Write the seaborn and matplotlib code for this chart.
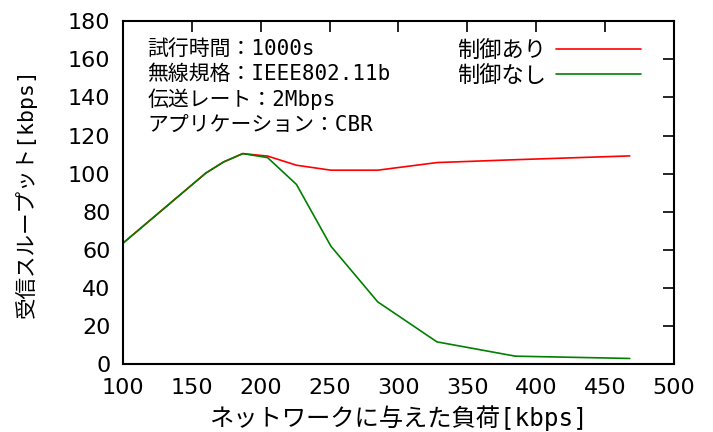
import matplotlib
matplotlib.use("Agg")
import matplotlib.pyplot as plt
import seaborn as sns
import pandas as pd

# offered load [kbps]
load = [100, 160, 173, 187, 205, 226, 251, 285, 328, 385, 468]
with_ctrl = [63.5, 100.2, 106.1, 110.5, 109.2, 104.4, 101.8, 101.8, 105.8, 107.3, 109.3]
without_ctrl = [63.5, 100.2, 106.1, 110.5, 108.4, 94.3, 61.9, 32.7, 11.7, 4.2, 3.0]
series_names = ["制御あり", "制御なし"]
info_lines = ["試行時間：1000s", "無線規格：IEEE802.11b", "伝送レート：2Mbps", "アプリケーション：CBR"]
x_ticks = [100, 150, 200, 250, 300, 350, 400, 450, 500]
y_ticks = [0, 20, 40, 60, 80, 100, 120, 140, 160, 180]

df = pd.DataFrame({
    "load": load * 2,
    "throughput": with_ctrl + without_ctrl,
    "series": [series_names[0]] * len(load) + [series_names[1]] * len(load),
})

sns.set_style("white")
plt.rcParams["font.family"] = ["DejaVu Sans", "Noto Sans CJK JP"]
plt.rcParams["text.color"] = "black"
plt.rcParams["axes.labelcolor"] = "black"

fig = plt.figure(figsize=(7.13, 4.32), dpi=100)
ax = fig.add_axes([0.1725, 0.157, 0.7725, 0.794])

sns.lineplot(data=df, x="load", y="throughput", hue="series",
             palette={series_names[0]: "#ff0000", series_names[1]: "#008000"},
             linewidth=1.2, ax=ax)

ax.set_xlim(100, 500)
ax.set_ylim(0, 180)
ax.set_xticks(x_ticks)
ax.set_yticks(y_ticks)
ax.tick_params(direction="in", length=8, width=1.2, top=True, right=True,
               labelsize=16, colors="black")
ax.tick_params(axis="y", pad=9)
ax.tick_params(axis="x", pad=10)
for s in ax.spines.values():
    s.set_linewidth(1.5)
    s.set_color("black")

jp = ["DejaVu Sans Mono", "Noto Sans CJK JP"]
ax.set_xlabel("ネットワークに与えた負荷[kbps]", fontsize=17.5, family=jp, labelpad=5)
ax.set_ylabel("受信スループット[kbps]", fontsize=15.5, family=jp, labelpad=22)

for i, line in enumerate(info_lines):
    ax.text(0.044, 0.919 - i * 0.0738, line, transform=ax.transAxes,
            fontsize=15, family=jp, va="center", ha="left")

leg = ax.legend(loc="upper right", bbox_to_anchor=(0.940, 0.946), frameon=False,
                markerfirst=False, handlelength=3.8, borderpad=0, borderaxespad=0,
                labelspacing=0.2, handletextpad=0.45,
                prop={"family": jp, "size": 16})

fig.savefig("out.png", dpi=100)
